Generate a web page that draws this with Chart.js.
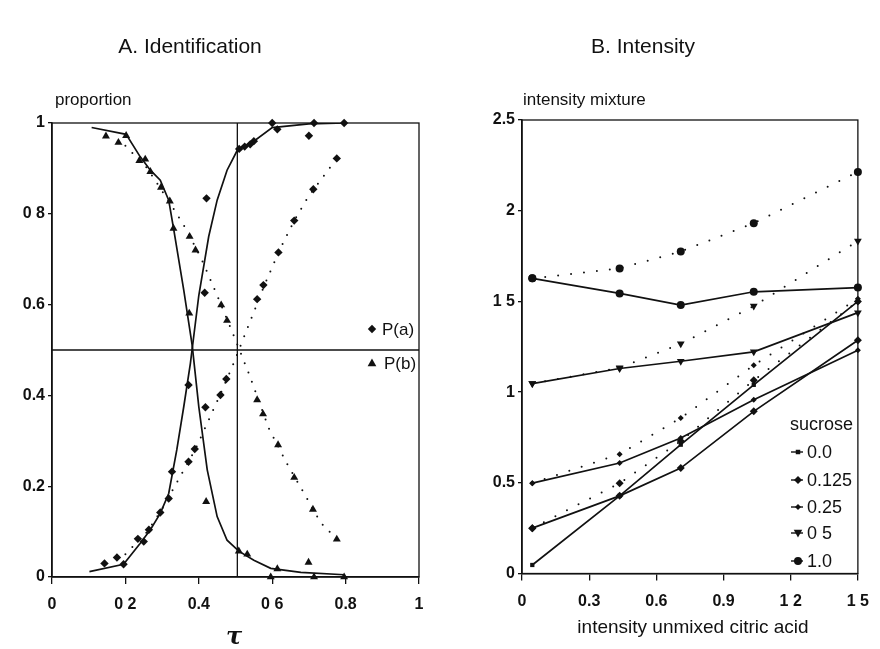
<!DOCTYPE html>
<html>
<head>
<meta charset="utf-8">
<script src="https://cdn.jsdelivr.net/npm/chart.js@4.4.1/dist/chart.umd.min.js"></script>
<style>
  html, body { margin: 0; padding: 0; background: #fff; }
  #wrap { position: relative; width: 880px; height: 649px; overflow: hidden; }
  .panel { position: absolute; top: 0; width: 440px; height: 649px; }
</style>
</head>
<body>
<div id="wrap">
  <div class="panel" style="left:0"><canvas id="chartA" width="440" height="649"></canvas></div>
  <div class="panel" style="left:440px"><canvas id="chartB" width="440" height="649"></canvas></div>
</div>
<script>
const FONT = "'Liberation Sans', Arial, sans-serif";
const INK = '#111';

// ---------- A. Identification ----------
const tauTicks = [0, 0.2, 0.4, 0.6, 0.8, 1];
const tauTickLabels = ['0', '0 2', '0.4', '0 6', '0.8', '1'];
const propTicks = [0, 0.2, 0.4, 0.6, 0.8, 1];
const propTickLabels = ['0', '0.2', '0.4', '0.6', '0 8', '1'];
const criterionTau = 0.505;
const criterionProp = 0.5;

// solid curves
const fitA_tau = [0.102, 0.195, 0.24, 0.268, 0.295, 0.318, 0.34, 0.359, 0.377, 0.4, 0.427, 0.45, 0.477, 0.505, 0.55, 0.6, 0.7, 0.8];
const fitA_p   = [0.012, 0.028, 0.074, 0.104, 0.14, 0.184, 0.28, 0.375, 0.47, 0.62, 0.75, 0.83, 0.896, 0.94, 0.96, 0.99, 0.998, 1.0];
const fitB_tau = [0.108, 0.202, 0.24, 0.268, 0.295, 0.318, 0.332, 0.359, 0.382, 0.4, 0.423, 0.45, 0.477, 0.509, 0.55, 0.596, 0.678, 0.796];
const fitB_p   = [0.99, 0.975, 0.926, 0.896, 0.874, 0.83, 0.764, 0.632, 0.51, 0.375, 0.236, 0.133, 0.081, 0.057, 0.037, 0.019, 0.01, 0.005];

// dotted curves
const dotA_tau = [0.2, 0.26, 0.3, 0.354, 0.39, 0.427, 0.46, 0.491, 0.536, 0.58, 0.62, 0.66, 0.7, 0.732, 0.776];
const dotA_p   = [0.05, 0.1, 0.15, 0.228, 0.28, 0.346, 0.405, 0.463, 0.555, 0.645, 0.72, 0.785, 0.84, 0.874, 0.922];
const dotB_tau = [0.2, 0.26, 0.3, 0.336, 0.37, 0.413, 0.45, 0.491, 0.536, 0.591, 0.64, 0.687, 0.732, 0.776];
const dotB_p   = [0.95, 0.9, 0.85, 0.805, 0.76, 0.69, 0.62, 0.54, 0.449, 0.327, 0.25, 0.184, 0.12, 0.083];

// observed proportions
const pa1_tau = [0.195, 0.25, 0.264, 0.295, 0.318, 0.327, 0.372, 0.421, 0.51, 0.525, 0.54, 0.55, 0.6, 0.614, 0.7, 0.714, 0.796];
const pa1_p   = [0.028, 0.078, 0.104, 0.142, 0.173, 0.232, 0.423, 0.834, 0.943, 0.948, 0.953, 0.96, 1.0, 0.986, 0.972, 1.0, 1.0];
const pa2_tau = [0.143, 0.177, 0.234, 0.372, 0.389, 0.416, 0.418, 0.459, 0.475, 0.559, 0.576, 0.617, 0.66, 0.712, 0.776];
const pa2_p   = [0.03, 0.043, 0.084, 0.254, 0.282, 0.626, 0.374, 0.401, 0.436, 0.612, 0.643, 0.715, 0.785, 0.854, 0.922];
const pb1_tau = [0.202, 0.238, 0.254, 0.268, 0.297, 0.321, 0.331, 0.374, 0.42, 0.509, 0.532, 0.596, 0.614, 0.699, 0.714, 0.796];
const pb1_p   = [0.972, 0.917, 0.92, 0.893, 0.858, 0.828, 0.768, 0.581, 0.166, 0.057, 0.05, 0.0, 0.018, 0.032, 0.0, 0.0];
const pb2_tau = [0.147, 0.181, 0.375, 0.391, 0.461, 0.477, 0.559, 0.575, 0.616, 0.66, 0.711, 0.776];
const pb2_p   = [0.971, 0.957, 0.75, 0.72, 0.599, 0.565, 0.39, 0.359, 0.291, 0.219, 0.149, 0.083];

// ---------- B. Intensity ----------
const acidTicks = [0, 0.3, 0.6, 0.9, 1.2, 1.5];
const acidTickLabels = ['0', '0.3', '0.6', '0.9', '1 2', '1 5'];
const mixTicks = [0, 0.5, 1, 1.5, 2, 2.5];
const mixTickLabels = ['0', '0.5', '1', '1 5', '2', '2.5'];
const acid = [0.046, 0.436, 0.709, 1.035, 1.5];
const sucroseLevels = ['0.0', '0.125', '0.25', '0 5', '1.0'];
const mixSolid = [
  [0.047, 0.428, 0.71, 1.04, 1.5],
  [0.25, 0.428, 0.581, 0.894, 1.286],
  [0.498, 0.609, 0.747, 0.958, 1.231],
  [1.047, 1.13, 1.17, 1.222, 1.438],
  [1.627, 1.544, 1.48, 1.553, 1.576]
];
const mixDotted = [
  null,
  [0.25, 0.498, 0.73, 1.065, 1.5],
  [0.498, 0.658, 0.857, 1.148, 1.515],
  [1.047, 1.134, 1.266, 1.474, 1.833],
  [1.627, 1.682, 1.775, 1.931, 2.214]
];
const sucroseMarks = [
  { style: 'rect', r: 3, rot: 0 },
  { style: 'rectRot', r: 4, rot: 0 },
  { style: 'rectRot', r: 3, rot: 0 },
  { style: 'triangle', r: 4.5, rot: 180 },
  { style: 'circle', r: 4, rot: 0 }
];

const pts = (xs, ys) => xs.map((x, i) => ({ x: x, y: ys[i] }));

function axis(pos, min, max, ticks, labels, size) {
  const vertical = pos === 'left';
  return {
    type: 'linear', position: pos, min: min, max: max,
    afterBuildTicks: s => { s.ticks = ticks.map(v => ({ value: v })); },
    afterFit: s => { if (vertical) s.width = size; else s.height = size; },
    ticks: {
      callback: (v, i) => labels[i], color: INK, autoSkip: false, maxRotation: 0,
      font: { family: FONT, size: 16, weight: 'bold' }, padding: vertical ? 3 : 11
    },
    grid: { drawOnChartArea: false, drawTicks: true, tickLength: vertical ? 4 : 7, color: INK, lineWidth: 1.3 },
    border: { display: true, color: INK, width: 1.5 }
  };
}

function mark(ctx, style, x, y, r, rot) {
  ctx.save();
  ctx.translate(x, y);
  ctx.rotate((rot || 0) * Math.PI / 180);
  ctx.beginPath();
  if (style === 'circle') ctx.arc(0, 0, r, 0, Math.PI * 2);
  else if (style === 'rect') ctx.rect(-r * 0.75, -r * 0.75, r * 1.5, r * 1.5);
  else if (style === 'rectRot') { ctx.moveTo(0, -r); ctx.lineTo(r, 0); ctx.lineTo(0, r); ctx.lineTo(-r, 0); }
  else { ctx.moveTo(0, -r); ctx.lineTo(r * 0.95, r * 0.7); ctx.lineTo(-r * 0.95, r * 0.7); }
  ctx.closePath();
  ctx.fillStyle = INK;
  ctx.fill();
  ctx.restore();
}

function text(ctx, str, x, y, font, align) {
  ctx.save();
  ctx.font = font;
  ctx.fillStyle = INK;
  ctx.textAlign = align || 'left';
  ctx.textBaseline = 'middle';
  ctx.fillText(str, x, y);
  ctx.restore();
}

const frame = {
  id: 'frame',
  beforeDatasetsDraw(chart) {
    const a = chart.chartArea, ctx = chart.ctx;
    ctx.save();
    ctx.strokeStyle = INK;
    ctx.lineWidth = 1.3;
    ctx.strokeRect(a.left, a.top, a.right - a.left, a.bottom - a.top);
    ctx.restore();
  }
};

const solidLine = { showLine: true, borderColor: INK, borderWidth: 1.7, pointRadius: 0, fill: false, tension: 0 };
const dottedLine = { showLine: true, borderColor: INK, borderWidth: 2, borderDash: [0, 10], borderCapStyle: 'round', pointRadius: 0, fill: false, tension: 0 };
const pointsOnly = { showLine: false, backgroundColor: INK, borderColor: INK, borderWidth: 0, clip: false };

new Chart(document.getElementById('chartA'), {
  type: 'scatter',
  data: {
    datasets: [
      Object.assign({ data: [{ x: criterionTau, y: 0 }, { x: criterionTau, y: 1 }] }, solidLine, { borderWidth: 1.3 }),
      Object.assign({ data: [{ x: 0, y: criterionProp }, { x: 1, y: criterionProp }] }, solidLine, { borderWidth: 1.3 }),
      Object.assign({ data: pts(dotA_tau, dotA_p) }, dottedLine),
      Object.assign({ data: pts(dotB_tau, dotB_p) }, dottedLine),
      Object.assign({ data: pts(fitA_tau, fitA_p) }, solidLine),
      Object.assign({ data: pts(fitB_tau, fitB_p) }, solidLine),
      Object.assign({ label: 'P(a)', data: pts(pa1_tau, pa1_p), pointStyle: 'rectRot', pointRadius: 4.2 }, pointsOnly),
      Object.assign({ label: 'P(a)', data: pts(pa2_tau, pa2_p), pointStyle: 'rectRot', pointRadius: 4.2 }, pointsOnly),
      Object.assign({ label: 'P(b)', data: pts(pb1_tau, pb1_p), pointStyle: 'triangle', pointRadius: 4.6 }, pointsOnly),
      Object.assign({ label: 'P(b)', data: pts(pb2_tau, pb2_p), pointStyle: 'triangle', pointRadius: 4.6 }, pointsOnly)
    ]
  },
  options: {
    responsive: false,
    animation: false,
    layout: { padding: { left: 0, right: 21, top: 123, bottom: 0 } },
    plugins: { legend: { display: false }, tooltip: { enabled: false } },
    scales: {
      x: axis('bottom', 0, 1, tauTicks, tauTickLabels, 72),
      y: axis('left', 0, 1, propTicks, propTickLabels, 52)
    }
  },
  plugins: [frame, {
    id: 'textsA',
    afterDraw(chart) {
      const ctx = chart.ctx;
      text(ctx, 'A. Identification', 190, 47, '21px ' + FONT, 'center');
      text(ctx, 'proportion', 55, 100, '17px ' + FONT);
      text(ctx, 'τ', 234, 638, 'italic bold 24px "DejaVu Serif", serif', 'center');
      mark(ctx, 'rectRot', 372, 329, 4.2, 0);
      text(ctx, 'P(a)', 382, 330, '17px ' + FONT);
      mark(ctx, 'triangle', 372, 363, 4.6, 0);
      text(ctx, 'P(b)', 384, 364, '17px ' + FONT);
    }
  }]
});

const datasetsB = [];
mixDotted.forEach((ys, k) => {
  if (!ys) return;
  const m = sucroseMarks[k];
  datasetsB.push(Object.assign({ data: pts(acid, ys) }, dottedLine, {
    borderDash: [0, 13], pointRadius: m.r, pointStyle: m.style, rotation: m.rot,
    pointBackgroundColor: INK, pointBorderWidth: 0, clip: false
  }));
});
mixSolid.forEach((ys, k) => {
  const m = sucroseMarks[k];
  datasetsB.push(Object.assign({ label: sucroseLevels[k], data: pts(acid, ys) }, solidLine, {
    pointRadius: m.r, pointStyle: m.style, rotation: m.rot,
    pointBackgroundColor: INK, pointBorderWidth: 0, clip: false
  }));
});

new Chart(document.getElementById('chartB'), {
  type: 'scatter',
  data: { datasets: datasetsB },
  options: {
    responsive: false,
    animation: false,
    layout: { padding: { left: 0, right: 14, top: 120, bottom: 0 } },
    plugins: { legend: { display: false }, tooltip: { enabled: false } },
    scales: {
      x: axis('bottom', 0, 1.5, acidTicks, acidTickLabels, 75.5),
      y: axis('left', 0, 2.5, mixTicks, mixTickLabels, 82)
    }
  },
  plugins: [frame, {
    id: 'textsB',
    afterDraw(chart) {
      const ctx = chart.ctx;
      text(ctx, 'B. Intensity', 203, 47, '21px ' + FONT, 'center');
      text(ctx, 'intensity mixture', 83, 100, '17px ' + FONT);
      text(ctx, 'intensity unmixed citric acid', 253, 628, '19px ' + FONT, 'center');
      text(ctx, 'sucrose', 350, 425, '18px ' + FONT);
      const rowY = [452, 480, 507, 533, 561];
      sucroseLevels.forEach((lab, k) => {
        const m = sucroseMarks[k], y = rowY[k];
        ctx.save();
        ctx.strokeStyle = INK; ctx.lineWidth = 1.4;
        ctx.beginPath(); ctx.moveTo(351, y); ctx.lineTo(363, y); ctx.stroke();
        ctx.restore();
        mark(ctx, m.style, 358, y, m.r, m.rot);
        text(ctx, lab, 367, y + 1, '18px ' + FONT);
      });
    }
  }]
});
</script>
</body>
</html>
